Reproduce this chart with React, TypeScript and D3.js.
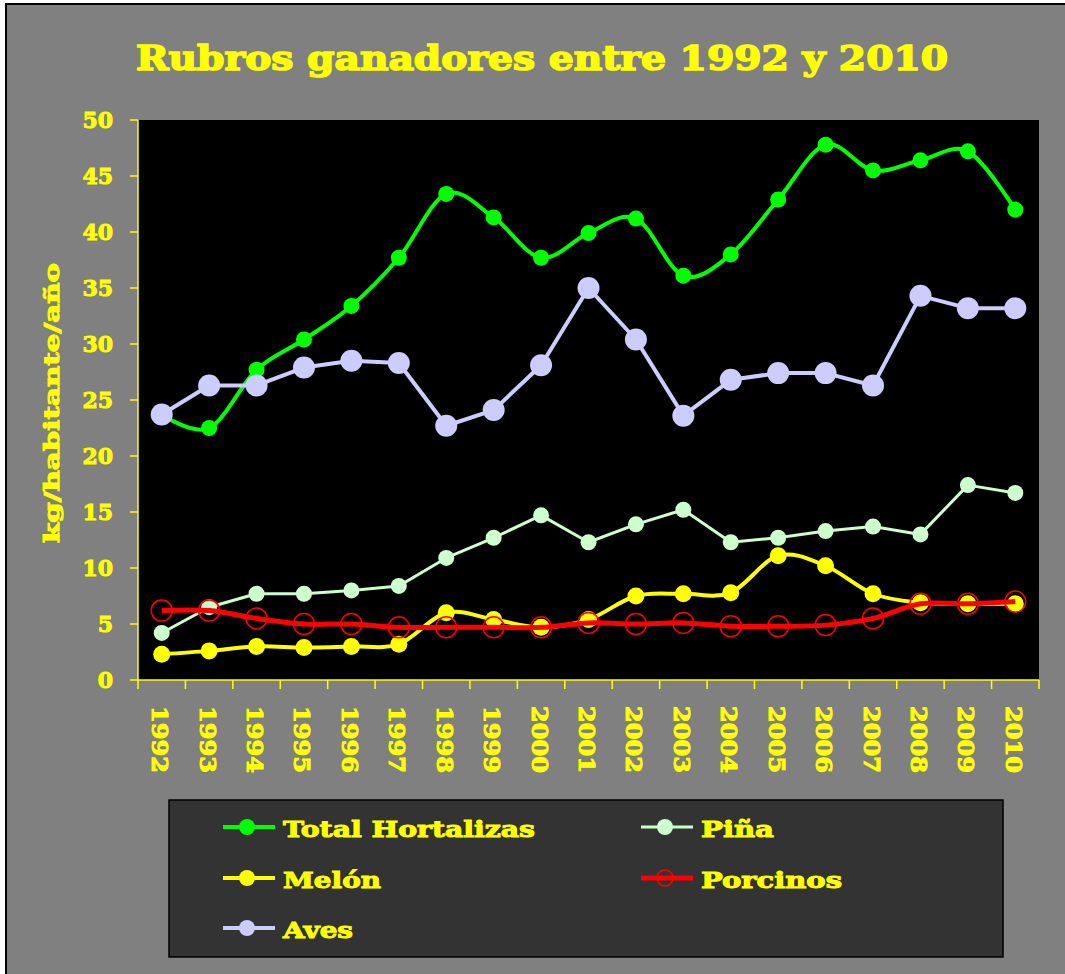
import React from "react";
import * as d3 from "d3";

const years = ["1992","1993","1994","1995","1996","1997","1998","1999","2000","2001","2002","2003","2004","2005","2006","2007","2008","2009","2010"];
const totalHortalizas = [23.7,22.5,27.7,30.4,33.4,37.7,43.4,41.3,37.7,39.9,41.2,36.1,38.0,42.9,47.8,45.5,46.4,47.2,42.0];
const pina = [4.2,6.5,7.7,7.7,8.0,8.4,10.9,12.7,14.7,12.3,13.9,15.2,12.3,12.7,13.3,13.7,13.0,17.4,16.7];
const melon = [2.3,2.6,3.0,2.9,3.0,3.2,6.0,5.4,4.7,5.4,7.5,7.7,7.8,11.1,10.2,7.7,6.9,6.8,6.8];
const porcinos = [6.2,6.2,5.5,5.0,5.0,4.7,4.7,4.7,4.7,5.1,5.0,5.1,4.8,4.8,4.9,5.5,6.8,6.8,7.0];
const aves = [23.7,26.3,26.3,27.9,28.5,28.3,22.7,24.1,28.1,35.0,30.4,23.6,26.8,27.4,27.4,26.3,34.3,33.2,33.2];
const yTicks = [0,5,10,15,20,25,30,35,40,45,50];

const seriesNames = ["Total Hortalizas","Piña","Melón","Porcinos","Aves"];
const seriesValues = [totalHortalizas, pina, melon, porcinos, aves];

type Style = { color: string; width: number; r: number; open: boolean; smooth: boolean };
const styles: Style[] = [
  { color: "#00ff00", width: 4, r: 8, open: false, smooth: true },
  { color: "#ccffcc", width: 3, r: 8, open: false, smooth: false },
  { color: "#ffff00", width: 4, r: 8.5, open: false, smooth: true },
  { color: "#ff0000", width: 5, r: 10.5, open: true, smooth: true },
  { color: "#ccccff", width: 4, r: 11, open: false, smooth: false },
];

const FONT = "'DejaVu Serif', serif";
const YEL = "#ffff00";

export default function App() {
  const W = 1065, H = 974;
  const left = 138, right = 1039, top = 120, bottom = 680;
  const x = d3.scaleBand<string>().domain(years).range([left, right]).padding(0);
  const y = d3.scaleLinear().domain([0, 50]).range([bottom, top]);
  const cx = (i: number) => (x(years[i]) as number) + x.bandwidth() / 2;

  const legendItems = [
    { idx: 0, lx: 223, ty: 827, tl: 252 },
    { idx: 1, lx: 641, ty: 827, tl: 73 },
    { idx: 2, lx: 223, ty: 878, tl: 98 },
    { idx: 3, lx: 641, ty: 878, tl: 141 },
    { idx: 4, lx: 223, ty: 928, tl: 70 },
  ];

  const heavy = { stroke: YEL, strokeWidth: 1, paintOrder: "stroke" as const };

  return (
    <svg width={W} height={H} style={{ position: "absolute", left: 0, top: 0, display: "block" }}>
      <rect x={0} y={0} width={W} height={H} fill="#ffffff" />
      <rect x={6} y={4} width={W + 10} height={H + 10} fill="#808080" stroke="#000" strokeWidth={2} />
      <text x={542} y={70} textAnchor="middle" fill={YEL} fontFamily={FONT} fontWeight="bold" fontSize={34}
        stroke={YEL} strokeWidth={1.6}
        textLength={812} lengthAdjust="spacingAndGlyphs">Rubros ganadores entre 1992 y 2010</text>

      <rect x={left} y={top} width={right - left} height={bottom - top} fill="#000" />
      {/* y axis */}
      <line x1={left} x2={left} y1={top} y2={bottom} stroke={YEL} strokeWidth={1.5} />
      {yTicks.map((t) => (
        <g key={t}>
          <line x1={left - 8} x2={left} y1={y(t)} y2={y(t)} stroke={YEL} strokeWidth={1.5} />
          <text x={113} y={y(t) + 8} textAnchor="end" fill={YEL} fontFamily={FONT} fontWeight="bold" fontSize={22} {...heavy}>{t}</text>
        </g>
      ))}
      {/* x axis */}
      <line x1={left} x2={right} y1={bottom} y2={bottom} stroke={YEL} strokeWidth={1.5} />
      {years.map((yr) => (
        <line key={"t" + yr} x1={x(yr) as number} x2={x(yr) as number} y1={bottom} y2={bottom + 9} stroke={YEL} strokeWidth={1.5} />
      ))}
      <line x1={right} x2={right} y1={bottom} y2={bottom + 9} stroke={YEL} strokeWidth={1.5} />
      {years.map((yr, i) => (
        <text key={"l" + yr} transform={`translate(${cx(i) - 1},706) rotate(90)`} dominantBaseline="central"
          fill={YEL} fontFamily={FONT} fontWeight="bold" fontSize={23} {...heavy} textLength={67} lengthAdjust="spacingAndGlyphs">{yr}</text>
      ))}
      <text transform={`translate(51,403) rotate(-90)`} textAnchor="middle" dominantBaseline="central"
        fill={YEL} fontFamily={FONT} fontWeight="bold" fontSize={21} {...heavy} textLength={280} lengthAdjust="spacingAndGlyphs">kg/habitante/año</text>

      {/* series */}
      {seriesValues.map((vals, si) => {
        const st = styles[si];
        const line = d3.line<number>()
          .x((_, i) => cx(i))
          .y((v) => y(v))
          .curve(st.smooth ? d3.curveCatmullRom.alpha(0) : d3.curveLinear);
        return (
          <g key={seriesNames[si]}>
            <path d={line(vals) || ""} fill="none" stroke={st.color} strokeWidth={st.width} strokeLinejoin="round" />
            {vals.map((v, i) => (
              <circle key={i} cx={cx(i)} cy={y(v)} r={st.r}
                fill={st.open ? "none" : st.color}
                stroke={st.open ? st.color : "none"} strokeWidth={st.open ? 1.5 : 0} />
            ))}
          </g>
        );
      })}

      {/* legend */}
      <rect x={169} y={800} width={834} height={157} fill="#333333" stroke="#000" strokeWidth={1.5} />
      {legendItems.map(({ idx, lx, ty, tl }) => {
        const st = styles[idx];
        return (
          <g key={seriesNames[idx]}>
            <line x1={lx} x2={lx + 52} y1={ty} y2={ty} stroke={st.color} strokeWidth={st.width} />
            <circle cx={lx + 24} cy={ty} r={8}
              fill={st.open ? "none" : st.color}
              stroke={st.open ? st.color : "none"} strokeWidth={st.open ? 1.5 : 0} />
            <text x={lx + 60} y={ty + 10} fill={YEL} fontFamily={FONT} fontWeight="bold" fontSize={23} {...heavy}
              textLength={tl} lengthAdjust="spacingAndGlyphs">{seriesNames[idx]}</text>
          </g>
        );
      })}
    </svg>
  );
}
